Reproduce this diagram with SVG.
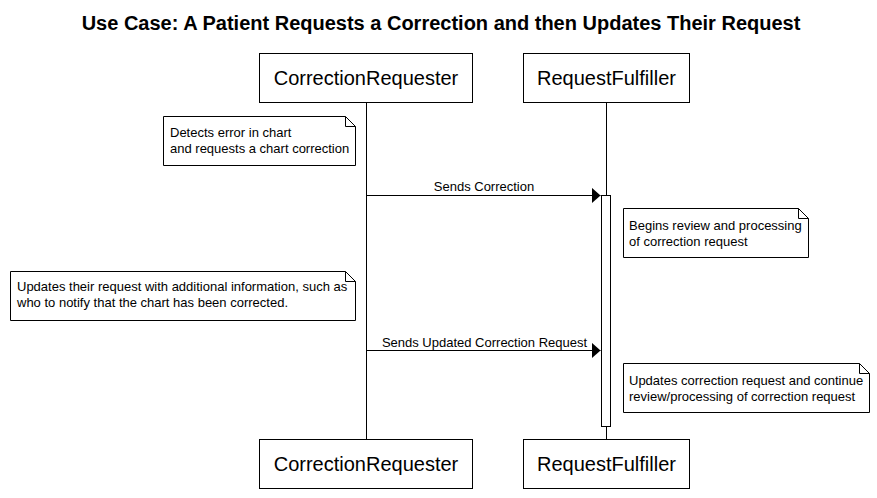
<svg xmlns="http://www.w3.org/2000/svg" width="877" height="498" viewBox="0 0 877 498">
<defs>
<style>
text{font-family:"Liberation Sans",Arial,sans-serif;fill:#000}
.title{font-size:20px;font-weight:bold;text-anchor:middle}
.part{font-size:20px;text-anchor:middle}
.note{font-size:13px}
.lbl{font-size:13px;text-anchor:middle}
.box{fill:#fff;stroke:#000;stroke-width:1}
.line{stroke:#000;stroke-width:1;fill:none}
</style>
<marker id="arr" markerWidth="9" markerHeight="16" refX="9" refY="8" orient="auto" markerUnits="userSpaceOnUse">
<path d="M0,0 L9,8 L0,16 Z" fill="#000"/>
</marker>
</defs>
<rect width="877" height="498" fill="#fff"/>
<text class="title" x="441" y="30">Use Case: A Patient Requests a Correction and then Updates Their Request</text>

<g id="lifelines">
<line class="line" x1="366.5" y1="102" x2="366.5" y2="439"/>
<line class="line" x1="606.5" y1="102" x2="606.5" y2="439"/>
</g>

<g id="CorrectionRequester">
<rect class="box" x="259.5" y="53.5" width="213" height="49"/>
<text class="part" x="366" y="85">CorrectionRequester</text>
<rect class="box" x="259.5" y="439.5" width="213" height="49"/>
<text class="part" x="366" y="471">CorrectionRequester</text>
</g>

<g id="RequestFulfiller">
<rect class="box" x="523.5" y="53.5" width="166" height="49"/>
<text class="part" x="606.5" y="85">RequestFulfiller</text>
<rect class="box" x="523.5" y="439.5" width="166" height="49"/>
<text class="part" x="606.5" y="471">RequestFulfiller</text>
<rect id="activation" class="box" x="601.5" y="195.5" width="9" height="231"/>
</g>

<g id="connectors">
<line class="line" x1="366.5" y1="195.5" x2="600.5" y2="195.5" marker-end="url(#arr)"/>
<text class="lbl" x="484" y="191">Sends Correction</text>
<line class="line" x1="366.5" y1="350.5" x2="600.5" y2="350.5" marker-end="url(#arr)"/>
<text class="lbl" x="484.5" y="346.5">Sends Updated Correction Request</text>
</g>

<g id="note1">
<path class="box" d="M163.5,116.5 H345.5 L355.5,126.5 V165.5 H163.5 Z"/>
<path class="line" d="M345.5,116.5 V126.5 H355.5"/>
<text class="note" x="170" y="137">Detects error in chart</text>
<text class="note" x="170" y="153">and requests a chart correction</text>
</g>

<g id="note2">
<path class="box" d="M623.5,208.5 H798.5 L808.5,218.5 V257.5 H623.5 Z"/>
<path class="line" d="M798.5,208.5 V218.5 H808.5"/>
<text class="note" x="629" y="230">Begins review and processing</text>
<text class="note" x="629" y="246">of correction request</text>
</g>

<g id="note3">
<path class="box" d="M10.5,271.5 H345.5 L355.5,281.5 V320.5 H10.5 Z"/>
<path class="line" d="M345.5,271.5 V281.5 H355.5"/>
<text class="note" x="17" y="291">Updates their request with additional information, such as</text>
<text class="note" x="17" y="307">who to notify that the chart has been corrected.</text>
</g>

<g id="note4">
<path class="box" d="M623.5,363.5 H859.5 L869.5,373.5 V412.5 H623.5 Z"/>
<path class="line" d="M859.5,363.5 V373.5 H869.5"/>
<text class="note" x="629" y="385">Updates correction request and continue</text>
<text class="note" x="629" y="401">review/processing of correction request</text>
</g>
</svg>
